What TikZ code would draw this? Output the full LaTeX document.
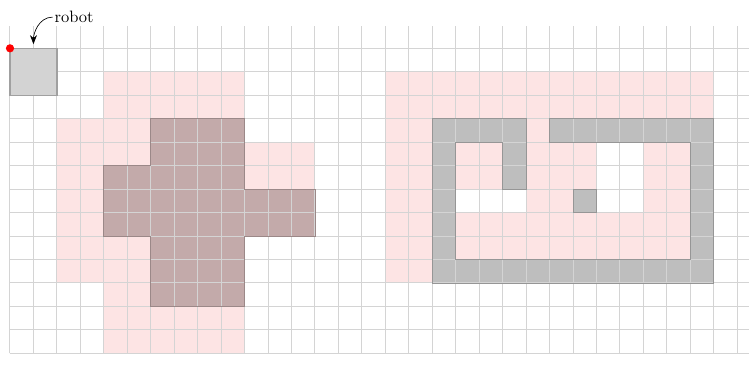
\documentclass[tikz,border=0pt]{standalone}
\usepackage{tikz}
\usetikzlibrary{arrows.meta,positioning,calc}
\usepackage{xcolor}
\definecolor{softpink}{RGB}{253,228,228}
\definecolor{mauvegray}{RGB}{195,170,170}
\definecolor{mauveedge}{RGB}{155,136,136}
\definecolor{wallgray}{RGB}{190,190,190}
\definecolor{walledge}{RGB}{150,150,150}
\definecolor{robotfill}{RGB}{211,211,211}
\definecolor{robotedge}{RGB}{160,160,160}
\definecolor{gridgray}{RGB}{212,212,212}

\begin{document}
\begin{tikzpicture}[x=0.5cm,y=0.5cm, >={Stealth[length=5.5pt,width=4.2pt]}]
  \tikzstyle{inflated}=[fill=softpink]
  \tikzstyle{obstacle}=[fill=mauvegray]
  \tikzstyle{wall}=[fill=wallgray]
  \tikzstyle{gridlines}=[draw=gridgray, line width=0.6pt]
  \tikzstyle{robotbox}=[rectangle, fill=robotfill, draw=robotedge, line width=0.9pt, minimum width=1cm, minimum height=1cm, inner sep=0pt, outer sep=0pt]
  \tikzstyle{reddot}=[circle, fill=red, minimum size=5pt, inner sep=0pt]
  \useasboundingbox (-0.426,-0.88) rectangle (31.5,15.06);
  % inflated zones
  \fill[inflated] (4,0) -- (10,0) -- (10,5) -- (13,5) -- (13,9) -- (10,9) -- (10,12) -- (4,12) -- (4,10) -- (2,10) -- (2,3) -- (4,3) -- cycle;
  \fill[inflated] (16,3) -- (18,3) -- (18,10) -- (30,10) -- (30,12) -- (16,12) -- cycle;
  \fill[inflated] (22,9) rectangle (23,10);
  \fill[inflated] (19,4) -- (29,4) -- (29,9) -- (27,9) -- (27,6) -- (25,6) -- (25,9) -- (19,9) -- (19,7) -- (22,7) -- (22,6) -- (19,6) -- cycle;
  % obstacles
  \fill[obstacle] (6,2) -- (10,2) -- (10,5) -- (13,5) -- (13,7) -- (10,7) -- (10,10) -- (6,10) -- (6,8) -- (4,8) -- (4,5) -- (6,5) -- cycle;
  \fill[wall] (18,3) -- (30,3) -- (30,10) -- (23,10) -- (23,9) -- (29,9) -- (29,4) -- (19,4) -- (19,9) -- (21,9) -- (21,7) -- (22,7) -- (22,10) -- (18,10) -- cycle;
  \fill[wall] (24,6) rectangle (25,7);
  % occupancy grid
  \draw[gridlines, step=0.5cm] (0,0) grid (31.5,13.95);
  % obstacle borders on top of the grid
  \draw[mauveedge, line width=0.5pt] (6,2) -- (10,2) -- (10,5) -- (13,5) -- (13,7) -- (10,7) -- (10,10) -- (6,10) -- (6,8) -- (4,8) -- (4,5) -- (6,5) -- cycle;
  \draw[walledge, line width=0.5pt] (18,3) -- (30,3) -- (30,10) -- (23,10) -- (23,9) -- (29,9) -- (29,4) -- (19,4) -- (19,9) -- (21,9) -- (21,7) -- (22,7) -- (22,10) -- (18,10) -- cycle;
  \draw[walledge, line width=0.5pt] (24,6) rectangle (25,7);
  % robot
  \node[robotbox] (robot) at (1,12) {};
  \node[reddot] (origin) at (robot.north west) {};
  \node[anchor=west, inner sep=1pt] (lbl) at (1.82,14.33) {robot};
  \draw[->, shorten >=2.5pt] (lbl.west) to[out=180, in=90] (robot.north);
\end{tikzpicture}
\end{document}
